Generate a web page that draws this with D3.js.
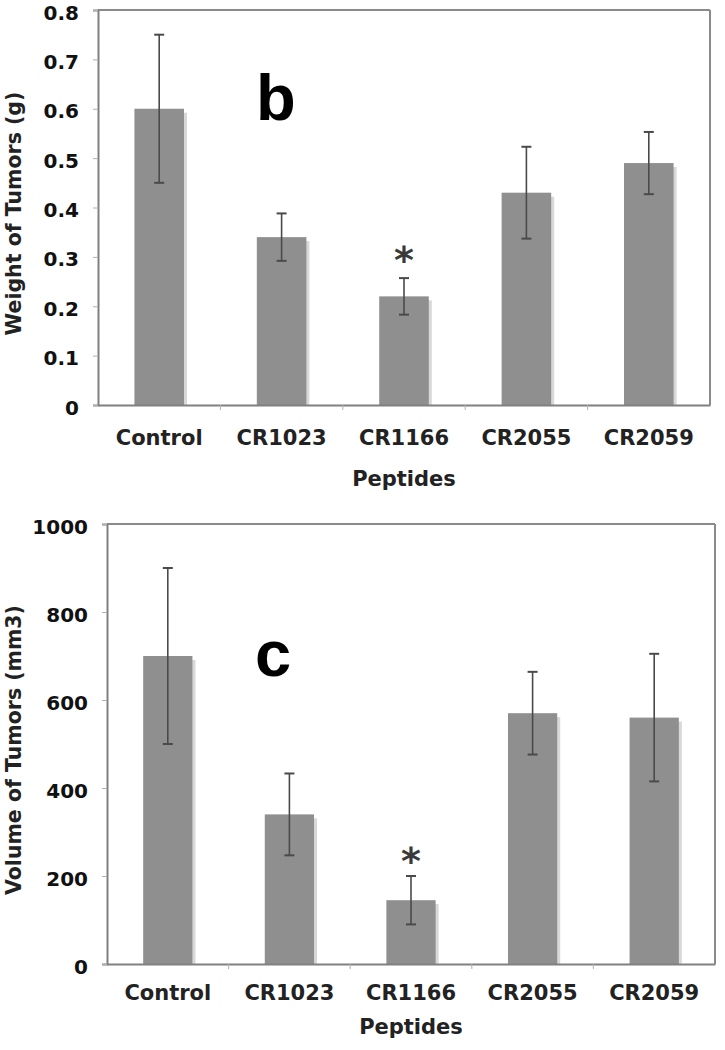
<!DOCTYPE html>
<html>
<head>
<meta charset="utf-8">
<script src="https://cdn.jsdelivr.net/npm/d3@7"></script>
<style>
  html, body { margin: 0; padding: 0; background: #fff; }
  svg { display: block; }
</style>
</head>
<body>
<svg id="chart" width="725" height="1050"></svg>
<script>
// ---- data ----
const categories = ["Control", "CR1023", "CR1166", "CR2055", "CR2059"];
const weightMeans = [0.60, 0.34, 0.22, 0.43, 0.49];
const weightErrors = [0.15, 0.048, 0.037, 0.093, 0.063];
const weightTicks = [0, 0.1, 0.2, 0.3, 0.4, 0.5, 0.6, 0.7, 0.8];
const weightTickLabels = ["0", "0.1", "0.2", "0.3", "0.4", "0.5", "0.6", "0.7", "0.8"];
const volumeMeans = [700, 340, 145, 570, 560];
const volumeErrors = [200, 93, 55, 94, 145];
const volumeTicks = [0, 200, 400, 600, 800, 1000];
const volumeTickLabels = ["0", "200", "400", "600", "800", "1000"];
const significant = ["CR1166"];
const panelLetters = ["b", "c"];
const yTitles = ["Weight of Tumors (g)", "Volume of Tumors (mm3)"];
const xTitle = "Peptides";

const svg = d3.select("#chart");
const FONT = "'DejaVu Sans', Verdana, sans-serif";

function drawPanel(opt) {
  const { left, right, top, bottom, means, errors, ticks, tickLabels, max,
          letter, letterPos, yTitle, catBaseline, xTitleBaseline, star } = opt;
  const g = svg.append("g");
  const x = d3.scaleBand().domain(categories).range([left, right])
    .paddingInner(0.595).paddingOuter(0.2975);
  const y = d3.scaleLinear().domain([0, max]).range([bottom, top]);

  // bars shadow + bars
  g.selectAll("rect.shadow").data(categories).join("rect")
    .attr("class", "shadow")
    .attr("x", d => x(d) + 3)
    .attr("y", (d, i) => y(means[i]) + 4)
    .attr("width", x.bandwidth())
    .attr("height", (d, i) => bottom - y(means[i]) - 4)
    .attr("fill", "#d8d8d8");
  g.selectAll("rect.bar").data(categories).join("rect")
    .attr("class", "bar")
    .attr("x", d => x(d))
    .attr("y", (d, i) => y(means[i]))
    .attr("width", x.bandwidth())
    .attr("height", (d, i) => bottom - y(means[i]))
    .attr("fill", "#8f8f8f");

  // frame (top & right)
  g.append("line").attr("x1", left).attr("x2", right).attr("y1", top).attr("y2", top)
    .attr("stroke", "#8a8a8a").attr("stroke-width", 2);
  g.append("line").attr("x1", right).attr("x2", right).attr("y1", top).attr("y2", bottom)
    .attr("stroke", "#8a8a8a").attr("stroke-width", 2);

  // y axis
  const yAxis = d3.axisLeft(y).tickValues(ticks)
    .tickFormat((d, i) => tickLabels[i]).tickSize(5).tickPadding(14);
  const ya = g.append("g").attr("transform", `translate(${left},0)`).call(yAxis);
  ya.select(".domain").attr("stroke", "#808080").attr("stroke-width", 2);
  ya.selectAll(".tick line").attr("stroke", "#b0b0b0").attr("stroke-width", 1);
  ya.selectAll(".tick text").attr("font-family", FONT).attr("font-weight", "bold")
    .attr("font-size", 20).attr("fill", "#111").attr("dy", "0.45em");

  // x axis
  const xAxis = d3.axisBottom(x).tickSize(0).tickPadding(0).tickFormat(() => "");
  const xa = g.append("g").attr("transform", `translate(0,${bottom})`).call(xAxis);
  xa.select(".domain").attr("stroke", "#808080").attr("stroke-width", 2);
  xa.selectAll(".tick").remove();
  const step = x.step();
  g.selectAll("line.xtick").data(d3.range(1, categories.length)).join("line")
    .attr("class", "xtick")
    .attr("x1", i => left + i * step).attr("x2", i => left + i * step)
    .attr("y1", bottom).attr("y2", bottom + 5)
    .attr("stroke", "#b0b0b0").attr("stroke-width", 1);
  g.selectAll("text.cat").data(categories).join("text")
    .attr("class", "cat")
    .attr("x", d => x(d) + x.bandwidth() / 2)
    .attr("y", catBaseline)
    .attr("text-anchor", "middle")
    .attr("font-family", FONT).attr("font-weight", "bold").attr("font-size", 21)
    .attr("fill", "#222")
    .text(d => d);

  // error bars
  const cap = 5;
  const eb = g.selectAll("g.err").data(categories).join("g").attr("class", "err");
  eb.append("line")
    .attr("x1", d => x(d) + x.bandwidth() / 2).attr("x2", d => x(d) + x.bandwidth() / 2)
    .attr("y1", (d, i) => y(means[i] + errors[i])).attr("y2", (d, i) => y(means[i] - errors[i]))
    .attr("stroke", "#4a4a4a").attr("stroke-width", 1.6);
  [1, -1].forEach(s => {
    eb.append("line")
      .attr("x1", d => x(d) + x.bandwidth() / 2 - cap).attr("x2", d => x(d) + x.bandwidth() / 2 + cap)
      .attr("y1", (d, i) => y(means[i] + s * errors[i])).attr("y2", (d, i) => y(means[i] + s * errors[i]))
      .attr("stroke", "#4a4a4a").attr("stroke-width", 2);
  });

  // significance stars
  significant.forEach(c => {
    const i = categories.indexOf(c);
    g.append("text")
      .attr("x", x(c) + x.bandwidth() / 2)
      .attr("y", y(means[i] + errors[i]) - star)
      .attr("text-anchor", "middle")
      .attr("font-family", FONT).attr("font-weight", "bold")
      .attr("font-size", 38).attr("fill", "#3a3a3a")
      .text("*");
  });

  // panel letter
  g.append("text").attr("x", letterPos[0]).attr("y", letterPos[1])
    .attr("font-family", "'Liberation Sans', Arial, sans-serif").attr("font-weight", "bold")
    .attr("font-size", 65).attr("fill", "#000").text(letter);

  // y title
  g.append("text")
    .attr("transform", `translate(21,${(top + bottom) / 2 + 6}) rotate(-90)`)
    .attr("text-anchor", "middle")
    .attr("font-family", FONT).attr("font-weight", "bold").attr("font-size", 20.5)
    .attr("fill", "#222").text(yTitle);

  // x title
  g.append("text").attr("x", (left + right) / 2).attr("y", xTitleBaseline)
    .attr("text-anchor", "middle")
    .attr("font-family", FONT).attr("font-weight", "bold").attr("font-size", 21)
    .attr("fill", "#222").text(xTitle);
}

drawPanel({
  left: 98, right: 710, top: 10, bottom: 405,
  means: weightMeans, errors: weightErrors, ticks: weightTicks, tickLabels: weightTickLabels,
  max: 0.8, letter: panelLetters[0], letterPos: [256, 120], yTitle: yTitles[0],
  catBaseline: 445, xTitleBaseline: 486, star: 5
});
drawPanel({
  left: 107, right: 715, top: 524, bottom: 964,
  means: volumeMeans, errors: volumeErrors, ticks: volumeTicks, tickLabels: volumeTickLabels,
  max: 1000, letter: panelLetters[1], letterPos: [255, 676], yTitle: yTitles[1],
  catBaseline: 1000, xTitleBaseline: 1034, star: 2
});
</script>
</body>
</html>
